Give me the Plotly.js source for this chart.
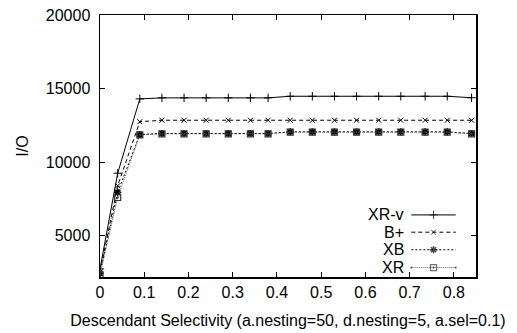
<!DOCTYPE html>
<html>
<head>
<meta charset="utf-8">
<script src="https://cdn.plot.ly/plotly-3.0.1.min.js"></script>
<style>html,body{margin:0;padding:0;background:#fff;}#chart{width:517px;height:333px;}</style>
</head>
<body>
<div id="chart"></div>
<script>
const selectivity = [0, 0.04, 0.09, 0.14, 0.19, 0.24, 0.29, 0.34, 0.38, 0.43, 0.48, 0.53, 0.58, 0.63, 0.68, 0.735, 0.785, 0.84];
const xrv = [2750, 9250, 14300, 14370, 14370, 14370, 14370, 14370, 14370, 14480, 14480, 14480, 14480, 14480, 14480, 14480, 14480, 14380];
const bplus = [2550, 8400, 12750, 12850, 12850, 12850, 12850, 12850, 12850, 12850, 12850, 12850, 12850, 12850, 12850, 12850, 12850, 12850];
const xb = [2450, 7950, 11880, 11950, 11950, 11950, 11950, 11950, 11950, 12060, 12060, 12060, 12060, 12060, 12060, 12060, 12060, 11950];
const xr = [2350, 7600, 11850, 11930, 11930, 11930, 11930, 11930, 11930, 12040, 12040, 12040, 12040, 12040, 12040, 12040, 12040, 11930];
const seriesNames = ["XR-v", "B+", "XB", "XR"];
const yTicks = [5000, 10000, 15000, 20000];

const styles = [
  {line: {color: "#000", width: 1, dash: "solid"}, marker: {symbol: "cross-thin-open", size: 6, line: {color: "#000", width: 1}}},
  {line: {color: "#000", width: 1, dash: "4px,3px"}, marker: {symbol: "x-thin-open", size: 5, line: {color: "#000", width: 1}}},
  {line: {color: "#000", width: 1, dash: "2px,2px"}, marker: {symbol: "asterisk-open", size: 6, line: {color: "#000", width: 1.6}}},
  {line: {color: "#666", width: 1, dash: "1px,1px"}, marker: {symbol: "square-open-dot", size: 6, color: "#333", line: {color: "#333", width: 1.2}}}
];
const allY = [xrv, bplus, xb, xr];

const traces = allY.map((ys, i) => ({
  x: selectivity, y: ys, type: "scatter", mode: "lines+markers", name: seriesNames[i],
  line: styles[i].line, marker: styles[i].marker, showlegend: false, hoverinfo: "skip"
}));

// legend samples on an overlay [0,1] axis pair
const legRowsY = [0.237, 0.171, 0.104, 0.036];
const legendTraces = legRowsY.map((ly, i) => ({
  x: [0.828, 0.887, 0.946], y: [ly, ly, ly], xaxis: "x2", yaxis: "y2",
  type: "scatter", mode: "lines+markers", showlegend: false, hoverinfo: "skip",
  line: styles[i].line,
  marker: Object.assign({}, styles[i].marker, {size: [0, styles[i].marker.size, 0]})
}));

const annotations = legRowsY.map((ly, i) => ({
  xref: "paper", yref: "paper", x: 0.815, y: ly, xanchor: "right", yanchor: "middle",
  text: seriesNames[i], showarrow: false, font: {family: "Liberation Sans, Arial, sans-serif", size: 16, color: "#000"}
}));

const font = {family: "Liberation Sans, Arial, sans-serif", size: 16, color: "#000"};
const layout = {
  width: 517, height: 333,
  margin: {l: 100, r: 41, t: 15, b: 56, pad: 0},
  paper_bgcolor: "#fff", plot_bgcolor: "#fff",
  font: font,
  xaxis: {
    range: [0, 0.85], tick0: 0, dtick: 0.1, ticks: "inside", ticklen: 5, tickcolor: "#000",
    showline: true, linecolor: "#000", linewidth: 1.5, mirror: "ticks",
    showgrid: false, zeroline: false, tickfont: font,
    title: {text: "Descendant Selectivity (a.nesting=50, d.nesting=5, a.sel=0.1)", font: font, standoff: 15}
  },
  yaxis: {
    range: [2200, 20000], tickvals: yTicks, ticktext: yTicks.map(String), ticks: "inside", ticklen: 5, tickcolor: "#000",
    showline: true, linecolor: "#000", linewidth: 1.5, mirror: "ticks", ticklabelstandoff: 5,
    showgrid: false, zeroline: false, tickfont: font,
    title: {text: "I/O", font: font, standoff: 13}
  },
  xaxis2: {overlaying: "x", range: [0, 1], visible: false, fixedrange: true},
  yaxis2: {overlaying: "y", range: [0, 1], visible: false, fixedrange: true},
  annotations: annotations,
  showlegend: false
};

Plotly.newPlot("chart", traces.concat(legendTraces), layout, {staticPlot: true, displayModeBar: false});
</script>
</body>
</html>
